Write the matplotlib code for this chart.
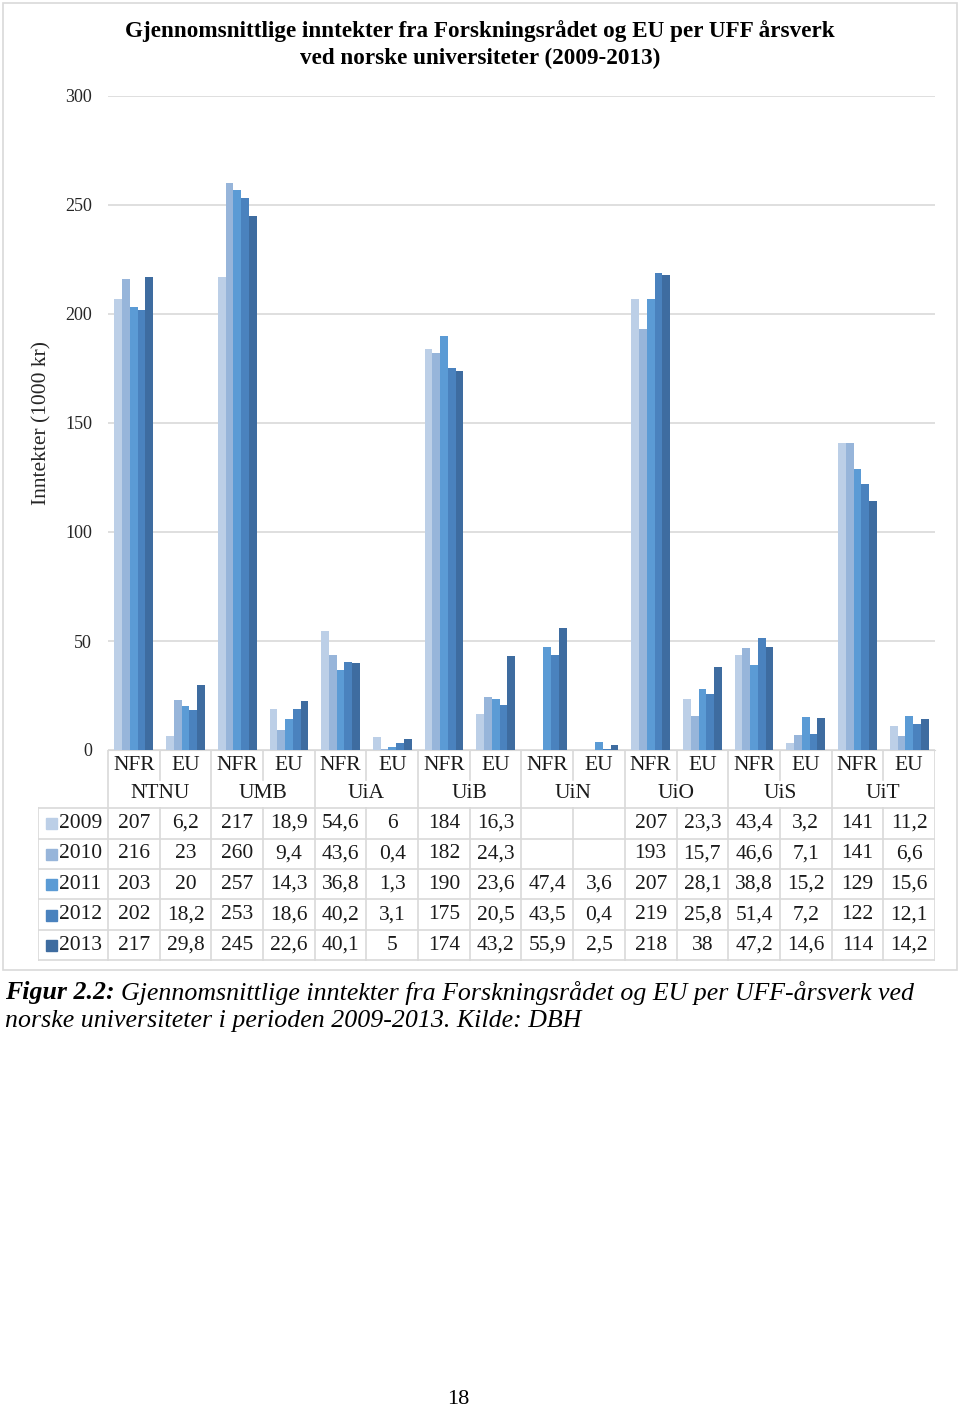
import numpy as np
import matplotlib
matplotlib.use("Agg")
import matplotlib.pyplot as plt
from matplotlib.patches import Rectangle

plt.rcParams['font.family'] = ['Liberation Serif', 'DejaVu Serif']

universities = ["NTNU", "UMB", "UiA", "UiB", "UiN", "UiO", "UiS", "UiT"]
kinds = ["NFR", "EU"]
years = ["2009", "2010", "2011", "2012", "2013"]
colors = ["#bccfe7", "#97b5da", "#5b9bd5", "#4a82be", "#3e6ca0"]

# one row per year, columns: NFR/EU per university (nan = missing)
nan = np.nan
v2009 = [207, 6.2, 217, 18.9, 54.6, 6, 184, 16.3, nan, nan, 207, 23.3, 43.4, 3.2, 141, 11.2]
v2010 = [216, 23, 260, 9.4, 43.6, 0.4, 182, 24.3, nan, nan, 193, 15.7, 46.6, 7.1, 141, 6.6]
v2011 = [203, 20, 257, 14.3, 36.8, 1.3, 190, 23.6, 47.4, 3.6, 207, 28.1, 38.8, 15.2, 129, 15.6]
v2012 = [202, 18.2, 253, 18.6, 40.2, 3.1, 175, 20.5, 43.5, 0.4, 219, 25.8, 51.4, 7.2, 122, 12.1]
v2013 = [217, 29.8, 245, 22.6, 40.1, 5, 174, 43.2, 55.9, 2.5, 218, 38, 47.2, 14.6, 114, 14.2]
values = [v2009, v2010, v2011, v2012, v2013]

W, H = 960, 1409
fig = plt.figure(figsize=(W / 100, H / 100), dpi=100)

def fx(px):
    return px / W

def fy(py):
    return 1 - py / H

# outer chart frame
fig.patches.append(Rectangle((fx(3), fy(970)), fx(954), 967 / H, transform=fig.transFigure,
                             fill=False, edgecolor="#d9d9d9", lw=1.2))

# main bar axes
x0, x1, ytop, ybot = 108, 935, 96, 750
ax = fig.add_axes([fx(x0), fy(ybot), fx(x1 - x0), (ybot - ytop) / H])
n = len(universities) * len(kinds)
x = np.arange(n)
bw = 0.15
for i, yr in enumerate(years):
    ax.bar(x + (i - 2) * bw, values[i], width=bw, color=colors[i], label=yr, zorder=3)
ax.set_xlim(-0.5, n - 0.5)
ax.set_ylim(0, 300)
ax.set_yticks(range(0, 301, 50))
ax.set_xticks([])
ax.grid(axis="y", color="#d9d9d9", lw=1.2, zorder=0)
for s in ["top", "right", "left"]:
    ax.spines[s].set_visible(False)
ax.spines["bottom"].set_color("#d9d9d9")
ax.tick_params(axis="y", length=0, pad=11.5, labelsize=13, labelcolor="#262626")
fig.text(fx(42), fy(423), "Inntekter (1000 kr)", rotation=90, ha="center", va="center",
         fontsize=15.5, color="#262626")

fig.text(0.5, fy(31), "Gjennomsnittlige inntekter fra Forskningsrådet og EU per UFF årsverk",
         ha="center", va="center", fontsize=16.7, fontweight="bold")
fig.text(0.5, fy(58), "ved norske universiteter (2009-2013)",
         ha="center", va="center", fontsize=16.7, fontweight="bold")

# data table below the axes, sharing the x scale
unit = (x1 - x0) / n
tl = 38
tb = fig.add_axes([fx(tl), fy(962), fx(x1 - tl), (962 - ybot) / H])
tb.set_xlim(-0.5 - (x0 - tl) / unit, n - 0.5)
tb.set_ylim(962, ybot)
tb.axis("off")
lc = "#d9d9d9"
row_edges = [808, 838.5, 869, 899.5, 930, 960.5]
xl = tb.get_xlim()[0]
for yy in row_edges:
    tb.plot([xl, n - 0.5], [yy, yy], color=lc, lw=1.2)
tb.plot([xl, xl], [808, 960.5], color=lc, lw=1.2)
for k in range(n + 1):
    xx = k - 0.5
    if k % 2 == 0:
        tb.plot([xx, xx], [ybot, 960.5], color=lc, lw=1.2)
    else:
        tb.plot([xx, xx], [ybot, 780], color=lc, lw=1.2)
        tb.plot([xx, xx], [808, 960.5], color=lc, lw=1.2)

fs = 15.5
for j in range(n):
    tb.text(j, 765, kinds[j % 2], ha="center", va="center", fontsize=fs, color="#1a1a1a")
for u, name in enumerate(universities):
    tb.text(2 * u + 0.5, 794, name, ha="center", va="center", fontsize=fs, color="#1a1a1a")

for i, yr in enumerate(years):
    yc = (row_edges[i] + row_edges[i + 1]) / 2
    sq = 11
    tb.add_patch(Rectangle((xl + 8 / unit, yc - sq / 2 + 0.5), sq / unit, sq, color=colors[i]))
    tb.text(xl + 21 / unit, yc, yr, ha="left", va="center", fontsize=fs, color="#1a1a1a")
    for j, v in enumerate(values[i]):
        if np.isnan(v):
            continue
        s = f"{v:g}".replace(".", ",")
        tb.text(j, yc, s, ha="center", va="center", fontsize=fs, color="#1a1a1a")

# caption
cfs = 18.6
lab = fig.text(fx(5), fy(993), "Figur 2.2:", ha="left", va="center", fontsize=cfs,
               fontweight="bold", style="italic")
r = fig.canvas.get_renderer()
bb = lab.get_window_extent(renderer=r)
fig.text(bb.x1 / W + fx(6), fy(993),
         "Gjennomsnittlige inntekter fra Forskningsrådet og EU per UFF-årsverk ved",
         ha="left", va="center", fontsize=cfs, style="italic")
fig.text(fx(5), fy(1021), "norske universiteter i perioden 2009-2013. Kilde: DBH",
         ha="left", va="center", fontsize=cfs, style="italic")

fig.text(fx(458), fy(1399), "18", ha="center", va="center", fontsize=16)

fig.savefig("out.png", dpi=100)
